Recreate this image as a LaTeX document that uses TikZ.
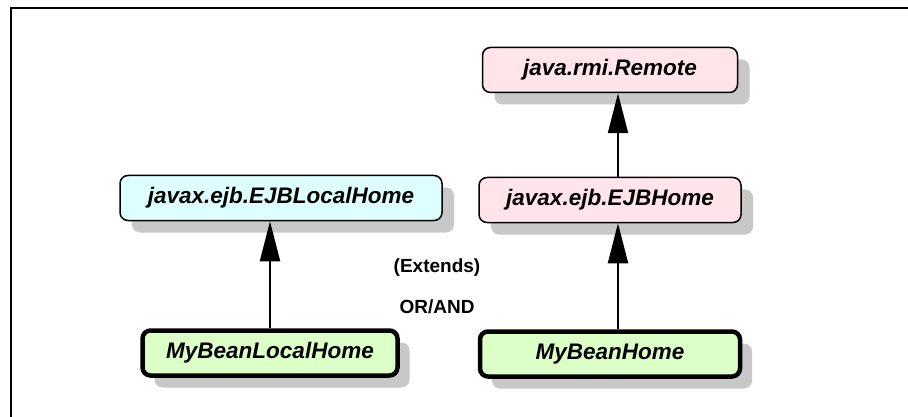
\documentclass[tikz,border=0pt]{standalone}
\usepackage{fontspec}
\setmainfont{Liberation Sans}
\usetikzlibrary{arrows.meta,shadows}

\definecolor{remotefill}{RGB}{255,228,234}
\definecolor{localfill}{RGB}{222,255,255}
\definecolor{beanfill}{RGB}{220,255,200}
\definecolor{shadowgray}{RGB}{200,200,200}

\tikzset{
  classbox/.style={draw, rounded corners=8pt, line width=1.5pt,
    minimum height=45pt, inner sep=0pt,
    font=\fontsize{22.5}{26}\selectfont\bfseries\itshape,
    drop shadow={shadow xshift=12pt, shadow yshift=-12pt, fill=shadowgray, opacity=1}},
  beanbox/.style={classbox, line width=4.5pt, fill=beanfill},
  remotebox/.style={classbox, fill=remotefill},
  localbox/.style={classbox, fill=localfill},
  ext/.style={line width=2pt, -{Triangle[width=20pt,length=40pt]}},
  note/.style={font=\fontsize{19}{22}\selectfont\bfseries}
}

\begin{document}
\begin{tikzpicture}[x=1pt,y=-1pt]
  \useasboundingbox (0,0) rectangle (908,417);
  % frame
  \draw[line width=1.5pt] (11,417) -- (11,8) -- (908,8);

  % interfaces
  \node[remotebox, minimum width=255pt] (remote) at (610,70) {java.rmi.Remote};
  \node[remotebox, minimum width=262pt] (ejbh) at (610,200) {javax.ejb.EJBHome};
  \node[localbox, minimum width=322pt] (ejblh) at (281,198) {javax.ejb.EJBLocalHome};

  % beans
  \node[beanbox, minimum width=255pt] (mblh) at (270,353) {MyBeanLocalHome};
  \node[beanbox, minimum width=260pt] (mbh) at (610,354) {MyBeanHome};

  % extends
  \draw[ext] (mblh.north) -- (mblh.north |- ejblh.south);
  \draw[ext] ([xshift=8pt]mbh.north) -- ([xshift=8pt]ejbh.south);
  \draw[ext] ([xshift=8pt]ejbh.north) -- ([xshift=8pt]remote.south);

  \node[note] (lbl) at (437,268) {(Extends)};
  \node[note] (oa) at (437,307) {OR/AND};
\end{tikzpicture}
\end{document}
